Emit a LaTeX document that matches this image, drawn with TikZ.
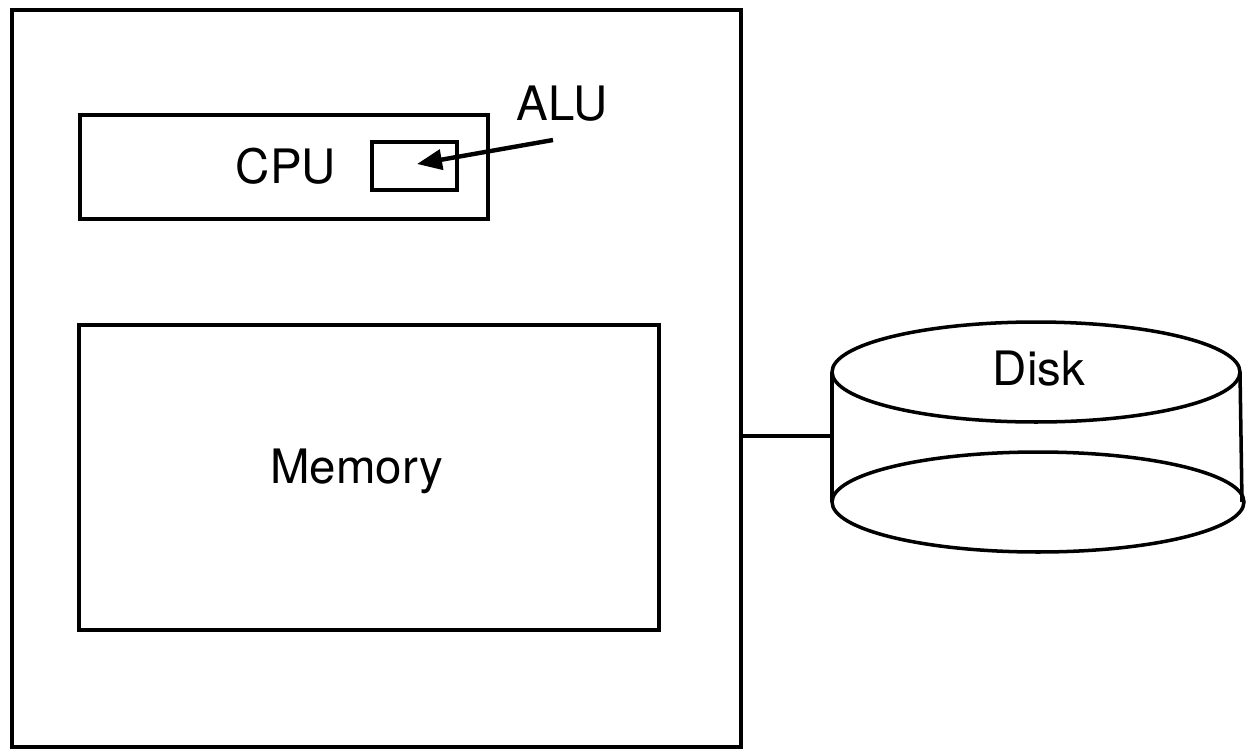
\documentclass[tikz,border=0pt]{standalone}
\usepackage{fontspec}
\setmainfont{TeX Gyre Heros}
\usetikzlibrary{calc}
\usetikzlibrary{positioning}
\usetikzlibrary{arrows.meta}
\tikzset{
box/.style={draw,black,line width=2pt,inner sep=0cm,anchor=center},
txt/.style={font=\fontsize{27}{32}\selectfont,inner sep=0cm,anchor=base},
line/.style={black,line width=2pt}
}

\begin{document}
\begin{tikzpicture}[x=0.02cm,y=-0.02cm]
    \useasboundingbox (0,0) rectangle (1251,751);
    %
    \node[box, minimum width=14.58cm, minimum height=14.74cm](machine) at (376.5, 378.5) {};
    \node[box, minimum width=8.16cm, minimum height=2.08cm](cpu) at (284, 167) {};
    \node[txt](cputext) at (286, 183) {CPU};
    \node[box, minimum width=1.70cm, minimum height=0.96cm](alu) at (414.5, 166) {};
    \node[txt](alutext) at (562, 120) {ALU};
    \node[box, minimum width=11.6cm, minimum height=6.1cm](memory) at (369, 477.5) {};
    \node[txt](memtext) at (356.5, 483) {Memory};
    %
    \coordinate (alufrom) at (553, 140);
    \coordinate (aluto) at (417, 164);
    \draw[line,line width=2.5pt,-{Triangle[length=0.5cm,width=0.4cm]}] (alufrom) -- (aluto);
    %
    \draw[line] (1036, 372) ellipse [x radius=4.08cm, y radius=1cm];
    \draw[line] (1038, 502) ellipse [x radius=4.12cm, y radius=1cm];
    \node[txt](disk) at (1039, 385) {Disk};
    \coordinate (diskleft) at (832, 436);
    \draw[line] (832, 372) -- (832, 502);
    \draw[line] (1240, 372) -- (1242, 502);
    \draw[line] (machine.east |- diskleft) -- (diskleft);
\end{tikzpicture}
\end{document}
